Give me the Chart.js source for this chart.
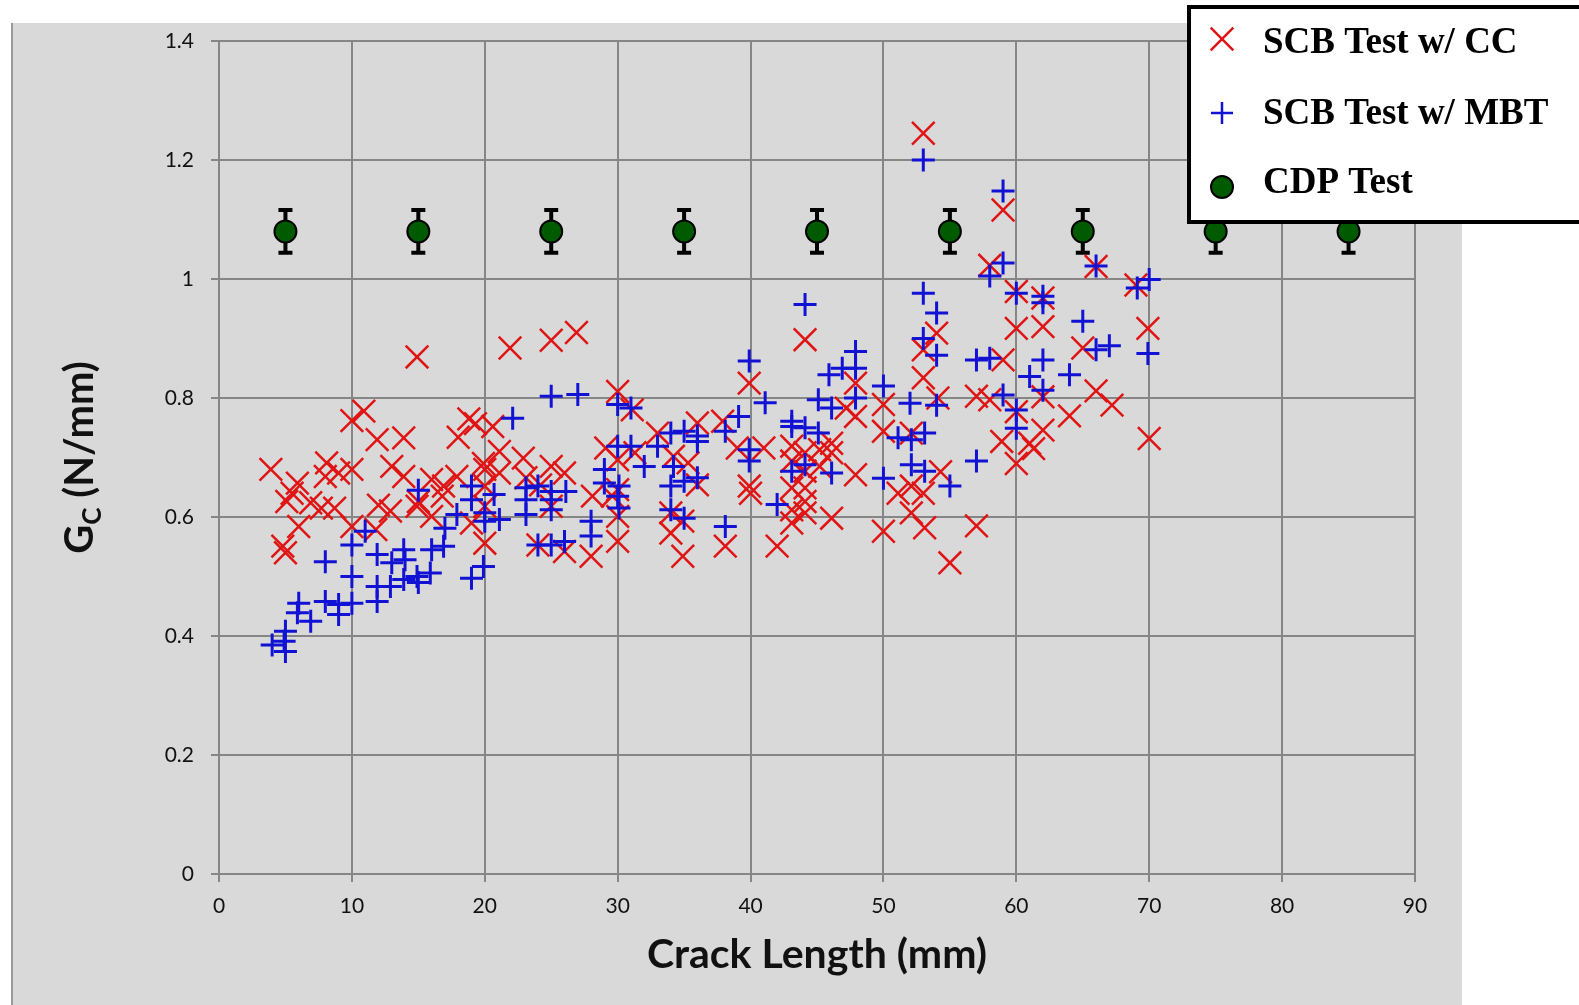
<!DOCTYPE html>
<html>
<head>
<meta charset="utf-8">
<title>Gc vs crack length</title>
<script src="https://cdn.jsdelivr.net/npm/chart.js@4.4.1/dist/chart.umd.min.js"></script>
<style>
  html, body { margin: 0; padding: 0; background: #fff; }
  #wrap { position: relative; width: 1579px; height: 1005px; }
</style>
</head>
<body>
<div id="wrap"><canvas id="gc-chart"></canvas></div>
<script>
// --- 1. Data ---

// SCB test, compliance calibration  [crack length mm, Gc N/mm]
const ccPoints = [
  [14.9,0.869],[10.9,0.778],[10.0,0.762],[11.9,0.730],[13.9,0.733],[18.0,0.734],[18.8,0.765],[19.3,0.757],
  [3.9,0.680],[5.9,0.657],[8.1,0.691],[9.0,0.674],[10.0,0.680],[13.0,0.685],[13.9,0.668],[12.0,0.620],
  [12.9,0.610],[15.0,0.626],[14.9,0.618],[16.0,0.663],[16.9,0.652],[17.9,0.668],[20.0,0.680],[20.0,0.652],
  [10.0,0.584],[11.8,0.579],[6.0,0.584],[4.8,0.551],[5.0,0.540],[7.7,0.615],[8.7,0.615],[6.9,0.624],
  [5.1,0.626],[16.0,0.601],[16.8,0.635],[19.0,0.590],[20.0,0.556],[20.0,0.618],[19.9,0.690],[5.5,0.640],
  [8.0,0.668],
  [21.9,0.884],[25.0,0.897],[26.9,0.910],[30.0,0.811],[31.1,0.780],[20.6,0.752],[21.1,0.710],[21.1,0.674],
  [22.9,0.699],[25.0,0.685],[26.0,0.674],[23.1,0.666],[24.2,0.654],[25.0,0.618],[24.0,0.553],[26.0,0.542],
  [28.0,0.534],[28.1,0.635],[29.1,0.716],[30.0,0.696],[30.0,0.646],[29.6,0.635],[30.0,0.601],[30.0,0.559],
  [33.0,0.741],[34.2,0.702],[35.3,0.691],[36.0,0.758],[37.9,0.761],[36.0,0.654],[34.0,0.607],[34.0,0.573],
  [34.9,0.593],[34.9,0.534],[38.1,0.551],[31.3,0.708],
  [44.1,0.898],[39.9,0.825],[47.9,0.825],[54.0,0.909],[53.0,0.881],[53.0,0.834],[54.1,0.800],[57.0,0.803],
  [47.2,0.783],[47.9,0.769],[50.0,0.789],[50.0,0.744],[52.1,0.741],[39.0,0.716],[41.0,0.716],[43.1,0.719],
  [44.1,0.708],[45.2,0.713],[46.1,0.724],[46.1,0.708],[43.1,0.694],[45.2,0.685],[44.1,0.677],[43.1,0.649],
  [44.1,0.649],[40.0,0.640],[39.9,0.652],[44.1,0.626],[43.1,0.612],[44.1,0.607],[43.1,0.590],[46.1,0.598],
  [42.0,0.551],[47.9,0.671],[51.1,0.640],[52.1,0.652],[53.0,0.640],[52.1,0.607],[53.1,0.582],[50.0,0.576],
  [54.3,0.676],[55.0,0.523],[57.0,0.585],
  [53.0,1.245],[59.0,1.116],[58.0,1.023],[60.0,0.979],[62.0,0.968],[69.0,0.990],[66.0,1.021],[60.0,0.917],
  [62.0,0.920],[69.9,0.917],[65.0,0.884],[59.0,0.864],[58.0,0.797],[62.0,0.802],[66.0,0.812],[67.2,0.788],
  [64.0,0.770],[60.0,0.777],[62.0,0.746],[58.9,0.727],[61.0,0.724],[61.3,0.715],[60.0,0.690],[70.0,0.732]
];

// SCB test, modified beam theory
const mbtPoints = [
  [15.0,0.645],[19.0,0.652],[19.0,0.629],[20.7,0.638],[17.9,0.604],[20.0,0.607],[20.0,0.593],[17.0,0.581],
  [16.0,0.545],[16.9,0.551],[11.0,0.576],[10.0,0.553],[8.0,0.525],[10.0,0.500],[11.9,0.537],[13.9,0.545],
  [14.0,0.528],[13.0,0.523],[12.9,0.483],[11.9,0.483],[13.9,0.495],[14.9,0.500],[15.9,0.506],[15.0,0.490],
  [11.9,0.458],[10.0,0.455],[8.0,0.458],[9.0,0.453],[9.0,0.436],[6.0,0.455],[5.9,0.439],[6.9,0.425],
  [5.0,0.408],[4.9,0.391],[4.0,0.385],[5.0,0.374],[19.9,0.517],[19.0,0.497],
  [25.0,0.803],[27.0,0.806],[30.0,0.789],[31.0,0.783],[22.1,0.766],[30.0,0.719],[31.0,0.719],[33.0,0.719],
  [32.0,0.685],[34.0,0.741],[35.0,0.744],[36.0,0.736],[36.0,0.727],[38.1,0.744],[39.1,0.769],[29.0,0.680],
  [29.0,0.657],[30.1,0.652],[30.0,0.635],[30.1,0.615],[34.2,0.685],[34.0,0.652],[35.0,0.660],[36.0,0.666],
  [23.1,0.649],[24.0,0.652],[25.0,0.643],[26.1,0.643],[23.1,0.629],[25.0,0.629],[25.0,0.612],[21.1,0.596],
  [23.1,0.604],[28.0,0.593],[28.0,0.568],[24.0,0.553],[25.0,0.553],[26.0,0.559],[34.0,0.612],[35.0,0.598],
  [38.1,0.584],
  [44.1,0.957],[47.9,0.878],[47.9,0.850],[46.9,0.850],[45.9,0.839],[50.0,0.820],[39.9,0.862],[41.1,0.792],
  [45.1,0.797],[46.1,0.783],[47.9,0.800],[43.1,0.761],[43.1,0.752],[44.1,0.750],[45.1,0.741],[51.1,0.733],
  [52.1,0.730],[53.1,0.741],[39.9,0.713],[39.9,0.694],[44.1,0.688],[43.1,0.677],[46.1,0.674],[52.1,0.688],
  [53.1,0.677],[50.0,0.665],[55.0,0.652],[57.0,0.694],[42.0,0.621],
  [53.0,1.200],[59.0,1.148],[59.0,1.027],[58.0,1.005],[60.0,0.976],[62.0,0.971],[62.0,0.960],[66.0,1.022],
  [70.0,0.999],[69.1,0.985],[53.0,0.976],[54.0,0.943],[53.0,0.900],[54.0,0.872],[57.0,0.864],[58.0,0.867],
  [65.0,0.929],[66.0,0.881],[67.0,0.888],[69.9,0.875],[61.0,0.836],[62.0,0.864],[64.0,0.839],[62.0,0.813],
  [59.0,0.805],[60.0,0.780],[54.0,0.788],[52.0,0.791],[60.0,0.749]
];

// CDP test: mean value with error bar
const cdpX = [5, 15, 25, 35, 45, 55, 65, 75, 85];
const cdpY = [1.08, 1.08, 1.08, 1.08, 1.08, 1.08, 1.08, 1.08, 1.08];
const cdpErr = [0.036, 0.036, 0.036, 0.036, 0.036, 0.036, 0.036, 0.036, 0.036];

const seriesLabels = ["SCB Test w/ CC", "SCB Test w/ MBT", "CDP Test"];
const xTickLabels = ["0", "10", "20", "30", "40", "50", "60", "70", "80", "90"];
const yTickLabels = ["0", "0.2", "0.4", "0.6", "0.8", "1", "1.2", "1.4"];
const xTitle = "Crack Length (mm)";
const yTitleParts = ["G", "C", " (N/mm)"];   // G, subscript C, rest

// --- 2. Styling ---
const red = "#e01414";
const blue = "#1212d4";
const green = "#005a00";
const gridColor = "#868686";
const tickFont = { family: "Lato", size: 21 };
const titleFont = { family: "Lato", size: 41, weight: "bold" };

// grey panel behind the plot
const panelBg = {
  id: "panelBg",
  beforeDraw(chart) {
    const ctx = chart.ctx;
    ctx.save();
    ctx.fillStyle = "#d9d9d9";
    ctx.fillRect(11, 23, 1451, 1005 - 23);
    ctx.strokeStyle = "#9a9a9a";
    ctx.lineWidth = 2;
    ctx.beginPath();
    ctx.moveTo(12, 23);
    ctx.lineTo(12, 1005);
    ctx.stroke();
    ctx.restore();
  }
};

// error bars for the CDP series
const errorBars = {
  id: "errorBars",
  beforeDatasetsDraw(chart) {
    const { ctx, scales: { x, y } } = chart;
    ctx.save();
    ctx.strokeStyle = "#000";
    ctx.lineWidth = 4;
    cdpX.forEach((cx, i) => {
      const px = x.getPixelForValue(cx);
      const top = y.getPixelForValue(cdpY[i] + cdpErr[i]);
      const bot = y.getPixelForValue(cdpY[i] - cdpErr[i]);
      ctx.beginPath();
      ctx.moveTo(px, top); ctx.lineTo(px, bot);
      ctx.moveTo(px - 7, top); ctx.lineTo(px + 7, top);
      ctx.moveTo(px - 7, bot); ctx.lineTo(px + 7, bot);
      ctx.stroke();
    });
    ctx.restore();
  }
};

// rotated y title with subscript
const yTitle = {
  id: "yTitle",
  afterDraw(chart) {
    const { ctx, chartArea } = chart;
    const big = "bold 40px Lato";
    const small = "bold 26px Lato";
    ctx.save();
    ctx.font = big;
    const w0 = ctx.measureText(yTitleParts[0]).width;
    const w2 = ctx.measureText(yTitleParts[2]).width;
    ctx.font = small;
    const w1 = ctx.measureText(yTitleParts[1]).width;
    const total = w0 + w1 + w2;
    ctx.translate(79, (chartArea.top + chartArea.bottom) / 2);
    ctx.rotate(-Math.PI / 2);
    ctx.fillStyle = "#111";
    ctx.textBaseline = "alphabetic";
    let x0 = -total / 2;
    ctx.font = big;
    ctx.fillText(yTitleParts[0], x0, 14);
    ctx.font = small;
    ctx.fillText(yTitleParts[1], x0 + w0, 22);
    ctx.font = big;
    ctx.fillText(yTitleParts[2], x0 + w0 + w1, 14);
    ctx.restore();
  }
};

// boxed legend in the top right corner
const boxLegend = {
  id: "boxLegend",
  afterDraw(chart) {
    const ctx = chart.ctx;
    const rows = [
      { y: 39, base: 53 },
      { y: 113, base: 124 },
      { y: 187, base: 193 }
    ];
    ctx.save();
    ctx.fillStyle = "#fff";
    ctx.fillRect(1189, 7, 420, 215);
    ctx.strokeStyle = "#000";
    ctx.lineWidth = 4;
    ctx.strokeRect(1189, 7, 420, 215);
    chart.data.datasets.forEach((ds, i) => {
      const r = rows[i];
      ctx.strokeStyle = ds.borderColor;
      ctx.fillStyle = ds.backgroundColor;
      ctx.lineWidth = ds.legendWidth;
      Chart.helpers.drawPoint(ctx, {
        pointStyle: ds.pointStyle, radius: ds.legendRadius,
        borderWidth: ds.legendWidth, rotation: 0
      }, 1222, r.y);
      ctx.fillStyle = "#000";
      ctx.font = "bold 37px 'Liberation Serif'";
      ctx.textBaseline = "alphabetic";
      ctx.fillText(ds.label, 1263, r.base);
    });
    ctx.restore();
  }
};

// --- 3. Chart ---
const toXY = p => ({ x: p[0], y: p[1] });

const chart = new Chart(document.getElementById("gc-chart"), {
  type: "scatter",
  data: {
    datasets: [{
      label: seriesLabels[0],
      data: ccPoints.map(toXY),
      pointStyle: "crossRot",
      radius: 16,
      borderWidth: 2.5,
      borderColor: red,
      backgroundColor: red,
      legendRadius: 16,
      legendWidth: 2.5,
      order: 2
    }, {
      label: seriesLabels[1],
      data: mbtPoints.map(toXY),
      pointStyle: "cross",
      radius: 11.5,
      borderWidth: 3,
      borderColor: blue,
      backgroundColor: blue,
      legendRadius: 11,
      legendWidth: 2.5,
      order: 1
    }, {
      label: seriesLabels[2],
      data: cdpX.map((x, i) => ({ x: x, y: cdpY[i] })),
      pointStyle: "circle",
      radius: 11,
      borderWidth: 2,
      borderColor: "#000",
      backgroundColor: green,
      legendRadius: 11,
      legendWidth: 2,
      order: 0
    }]
  },
  options: {
    responsive: true,
    maintainAspectRatio: false,
    animation: false,
    events: [],
    layout: { padding: { top: 41, right: 164, left: 0, bottom: 0 } },
    plugins: {
      legend: { display: false },
      tooltip: { enabled: false }
    },
    scales: {
      x: {
        type: "linear",
        min: 0,
        max: 90,
        afterFit: s => { s.height = 131; },
        ticks: {
          stepSize: 10,
          padding: 12,
          font: tickFont,
          color: "#111",
          callback: v => xTickLabels[Math.round(v / 10)]
        },
        grid: { color: gridColor, lineWidth: 2, tickLength: 8 },
        border: { color: gridColor, width: 2 },
        title: {
          display: true,
          text: xTitle,
          font: titleFont,
          color: "#111",
          padding: { top: 0, bottom: 26 }
        }
      },
      y: {
        min: 0,
        max: 1.4,
        afterFit: s => { s.width = 219; },
        ticks: {
          stepSize: 0.2,
          padding: 17,
          font: tickFont,
          color: "#111",
          callback: v => yTickLabels[Math.round(v / 0.2)]
        },
        grid: { color: gridColor, lineWidth: 2, tickLength: 8 },
        border: { color: gridColor, width: 2 }
      }
    }
  },
  plugins: [panelBg, errorBars, yTitle, boxLegend]
});
</script>
</body>
</html>
